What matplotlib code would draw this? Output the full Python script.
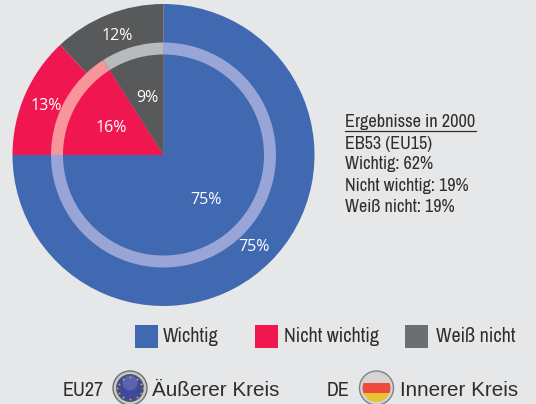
import matplotlib
matplotlib.use('Agg')
import matplotlib.pyplot as plt
from matplotlib.patches import Circle, Rectangle

# Values
categories = ['Wichtig', 'Nicht wichtig', 'Weiß nicht']
eu27_values = [75, 13, 12]
de_values = [75, 16, 9]
colors = ['#4069b2', '#f01650', '#58595b']
ring_colors = ['#98a5d6', '#f7959b', '#b9babc']
legend_colors = ['#4069b2', '#f01650', '#6d6e70']
info_title = 'Ergebnisse in 2000'
info_lines = ['EB53 (EU15)', 'Wichtig: 62%', 'Nicht wichtig: 19%', 'Weiß nicht: 19%']

bg = '#e6e7e9'
txt = '#2f2e2f'
narrow = 'Archivo Narrow'
label_font = 'Open Sans'

fig = plt.figure(figsize=(5.36, 4.04), dpi=100, facecolor=bg)
ax = fig.add_axes([0, 0, 1, 1])
ax.set_facecolor(bg)

center = (163.5, 404 - 155)
ax.pie(eu27_values, radius=151, colors=colors, startangle=90, counterclock=False, center=center, frame=True)
ax.pie(de_values, radius=112.5, colors=ring_colors, startangle=90, counterclock=False, center=center, frame=True)
ax.pie(de_values, radius=100.5, colors=colors, startangle=90, counterclock=False, center=center, frame=True)

ax.set_xlim(0, 536)
ax.set_ylim(0, 404)
ax.set_aspect('equal')
ax.axis('off')

def y(v):
    return 404 - v

# Percent labels
for s, px, py in [('12%', 117, 36.5), ('13%', 46, 105.5), ('9%', 147, 98), ('16%', 111, 128),
                  ('75%', 206, 199.5), ('75%', 254, 247)]:
    ax.text(px, y(py), s, color='white', fontsize=11.5, family=label_font, ha='center', va='center')

# Info block
ax.text(345, y(122), info_title, fontsize=13.2, family=narrow, color=txt, ha='left', va='center')
ax.plot([345, 476], [y(130.5), y(130.5)], color=txt, lw=0.9)
for s, py in zip(info_lines, [143.5, 164.5, 185.5, 207]):
    ax.text(345, y(py), s, fontsize=13, family=narrow, color=txt, ha='left', va='center')

# Colour legend
for c, name, bx, tx in zip(legend_colors, categories, [135, 255, 405], [163, 284, 436]):
    ax.add_patch(Rectangle((bx, y(348)), 22.5, 23, color=c, lw=0))
    ax.text(tx, y(336), name, fontsize=14.4, family=narrow, color=txt, ha='left', va='center')

# Circle legend
ax.text(63, y(390), 'EU27', fontsize=14.5, family=narrow, color=txt, ha='left', va='center')
ax.text(152, y(390), 'Äußerer Kreis', fontsize=14.9, family='Liberation Sans', color=txt, ha='left', va='center')
ax.text(327, y(390), 'DE', fontsize=14.5, family=narrow, color=txt, ha='left', va='center')
ax.text(400, y(390), 'Innerer Kreis', fontsize=14.9, family='Liberation Sans', color=txt, ha='left', va='center')

# EU badge
ax.add_patch(Circle((130, y(388)), 17, fc='#c9cacc', ec='#6d6e70', lw=1))
ax.add_patch(Circle((130, y(388)), 13.5, fc='#3d4a9c', ec='#58595b', lw=0.6))
ax.add_patch(Circle((130, y(383)), 7.5, fc='#6e77b8', lw=0, alpha=0.6))
star_x = [130, 137, 141, 143, 141, 137, 130, 123, 119, 117, 119, 123]
star_y = [377, 379, 384, 388, 393, 397, 399, 397, 393, 388, 384, 379]
ax.scatter(star_x, [y(v) for v in star_y], s=5, color='#d9b23a', marker='*', lw=0, zorder=5)

# DE badge
ax.add_patch(Circle((376.5, y(388)), 17, fc='#d3d4d6', ec='#808184', lw=1))
clip = Circle((376.5, y(388)), 14, transform=ax.transData)
for c, top, h in [('#d8d4d2', 374, 9), ('#ee4a3b', 383, 10), ('#e6c32f', 393, 10)]:
    r = Rectangle((360, y(top + h)), 34, h, color=c, lw=0, zorder=3)
    ax.add_patch(r)
    r.set_clip_path(clip)

fig.savefig('out.png', dpi=100, facecolor=bg)
